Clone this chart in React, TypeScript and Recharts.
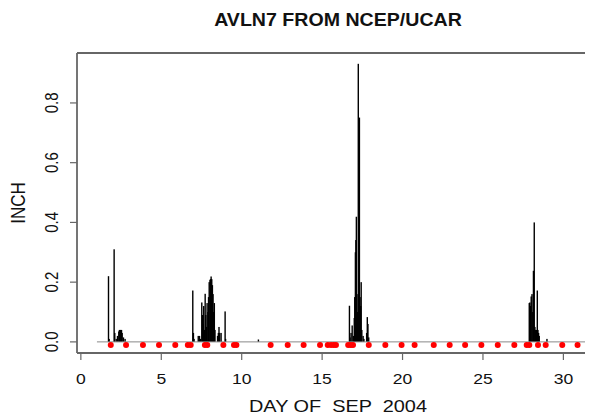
import React from 'react';
import { ComposedChart, Bar, Scatter, XAxis, YAxis, ReferenceLine } from 'recharts';

// Precipitation (inch) – hourly values
const barDays = [
  1.72, 1.76, 2.07, 2.11, 2.2, 2.28, 2.36, 2.4, 2.45, 2.49, 2.53, 2.57, 2.65, 2.75,
  6.96, 7.0, 7.04, 7.3, 7.38, 7.45, 7.52, 7.56, 7.6, 7.64, 7.69, 7.73, 7.77, 7.81, 7.85, 7.9,
  7.94, 7.98, 8.03, 8.07, 8.1, 8.14, 8.18, 8.22, 8.26, 8.3, 8.34, 8.5, 8.55, 8.59, 8.63, 8.72,
  8.97, 9.0, 11.04,
  16.7, 16.74, 16.8, 16.87, 16.95, 17.0, 17.03, 17.07, 17.1, 17.13, 17.17, 17.21, 17.25, 17.28,
  17.32, 17.36, 17.4, 17.43, 17.47, 17.55, 17.6, 17.77, 17.81, 17.85, 17.9,
  27.88, 27.92, 27.96, 28.0, 28.05, 28.1, 28.14, 28.19, 28.23, 28.27, 28.34, 28.38, 28.42,
  28.46, 28.5, 28.98,
];
const barValues = [
  0.22, 0.01, 0.31, 0.03, 0.01, 0.02, 0.035, 0.04, 0.04, 0.04, 0.04, 0.03, 0.015, 0.01,
  0.172, 0.03, 0.01, 0.02, 0.02, 0.01, 0.132, 0.09, 0.06, 0.12, 0.04, 0.161, 0.09, 0.05, 0.13, 0.1,
  0.15, 0.2, 0.208, 0.21, 0.219, 0.21, 0.19, 0.16, 0.1, 0.13, 0.04, 0.02, 0.03, 0.05, 0.03, 0.03,
  0.102, 0.01, 0.008,
  0.121, 0.015, 0.03, 0.055, 0.02, 0.08, 0.15, 0.3, 0.341, 0.419, 0.16, 0.1, 0.931, 0.05,
  0.751, 0.15, 0.12, 0.2, 0.04, 0.02, 0.01, 0.03, 0.083, 0.06, 0.015,
  0.13, 0.132, 0.12, 0.152, 0.16, 0.1, 0.238, 0.4, 0.05, 0.04, 0.04, 0.172, 0.04,
  0.03, 0.02, 0.01,
];

// Observation markers (red dots)
const dotDays = [
  1.86, 2.81, 3.86, 4.86, 5.87, 6.65, 6.83, 7.71, 7.86, 8.86, 9.52, 9.67, 11.8, 12.86, 13.85,
  14.87, 15.35, 15.55, 15.72, 15.86, 16.62, 16.78, 16.92, 17.9, 18.93, 19.94, 20.75, 21.94,
  22.93, 23.89, 24.9, 25.92, 26.95, 27.72, 27.88, 28.42, 28.9, 29.93, 30.88,
];
const dotValue = -0.01;

const xTicks = [0, 5, 10, 15, 20, 25, 30];
const yTicks = [0, 0.2, 0.4, 0.6, 0.8];
const xDomain: [number, number] = [-0.24, 33.24];
const yDomain: [number, number] = [-0.0372, 0.9672];
const baselineRange = [1, 32];

const barData = barDays.map((d, i) => ({ day: d, inch: barValues[i] }));
const dotData = dotDays.map((d) => ({ day: d, inch: dotValue }));

const FONT = '"Liberation Sans", Arial, Helvetica, sans-serif';
const SX = 1.17;
const LINE_W = 1.4;

const XTick = (props: any) => {
  const { x, y, payload } = props;
  return (
    <text
      transform={`translate(${x},${y}) scale(${SX},1)`}
      textAnchor="middle"
      dy="0.71em"
      fontSize={15}
      fill="#111"
      fontFamily={FONT}
    >
      {payload.value}
    </text>
  );
};

const YTick = (props: any) => {
  const { x, y, payload } = props;
  return (
    <text
      transform={`translate(${x},${y}) scale(${SX},1) rotate(-90)`}
      textAnchor="middle"
      fontSize={15}
      fill="#111"
      fontFamily={FONT}
    >
      {Number(payload.value).toFixed(1)}
    </text>
  );
};

// R type="h" style vertical line for each bar
const HLine = (p: any) => {
  const cx = p.x + p.width / 2;
  return (
    <rect x={cx - LINE_W / 2} y={p.y} width={LINE_W} height={Math.max(p.height, 0)} fill="#000" />
  );
};

export default function App() {
  return (
    <div style={{ position: 'relative', width: 585, height: 409, background: '#fff' }}>
      <ComposedChart
        width={585}
        height={409}
        data={barData}
        margin={{ top: 44, left: 29, right: -22.5, bottom: 34 }}
      >
        <XAxis
          dataKey="day"
          type="number"
          domain={xDomain}
          ticks={xTicks}
          allowDataOverflow
          height={30}
          tickSize={7}
          tickMargin={13}
          tick={<XTick />}
          axisLine={{ stroke: '#666', strokeWidth: 1.8 }}
          tickLine={{ stroke: '#666', strokeWidth: 1.2 }}
        />
        <XAxis
          xAxisId="top"
          orientation="top"
          dataKey="day"
          type="number"
          domain={xDomain}
          ticks={xTicks}
          allowDataOverflow
          height={1}
          tick={false}
          tickLine={false}
          axisLine={{ stroke: '#666', strokeWidth: 1.8 }}
        />
        <YAxis
          type="number"
          domain={yDomain}
          ticks={yTicks}
          allowDataOverflow
          width={40}
          tickSize={7}
          tickMargin={12}
          tick={<YTick />}
          axisLine={{ stroke: '#666', strokeWidth: 1.8 }}
          tickLine={{ stroke: '#666', strokeWidth: 1.2 }}
        />
        <ReferenceLine
          segment={[
            { x: baselineRange[0], y: 0 },
            { x: baselineRange[1], y: 0 },
          ]}
          stroke="#888"
          strokeWidth={1}
        />
        <Bar dataKey="inch" fill="#000" barSize={2} shape={<HLine />} isAnimationActive={false} />
        <Scatter
          xAxisId="top"
          data={dotData}
          dataKey="inch"
          fill="#ff0000"
          isAnimationActive={false}
          shape={(p: any) => <circle cx={p.cx} cy={p.cy} r={3} fill="#ff0000" />}
        />
      </ComposedChart>
      <svg
        width={585}
        height={409}
        style={{ position: 'absolute', left: 0, top: 0, pointerEvents: 'none' }}
      >
        <text
          transform={`translate(330,18) scale(1.12,1)`}
          textAnchor="middle"
          fontSize={17.5}
          fontWeight="bold"
          fill="#111"
          fontFamily={FONT}
        >
          AVLN7 FROM NCEP/UCAR
        </text>
        <text
          transform={`translate(330,404) scale(${SX},1)`}
          textAnchor="middle"
          fontSize={17}
          fill="#111"
          fontFamily={FONT}
          style={{ whiteSpace: 'pre' }}
        >
          {'DAY OF  SEP  2004'}
        </text>
        <text
          transform={`translate(17,195) scale(${SX},1) rotate(-90)`}
          textAnchor="middle"
          fontSize={17}
          fill="#111"
          fontFamily={FONT}
        >
          INCH
        </text>
      </svg>
    </div>
  );
}
